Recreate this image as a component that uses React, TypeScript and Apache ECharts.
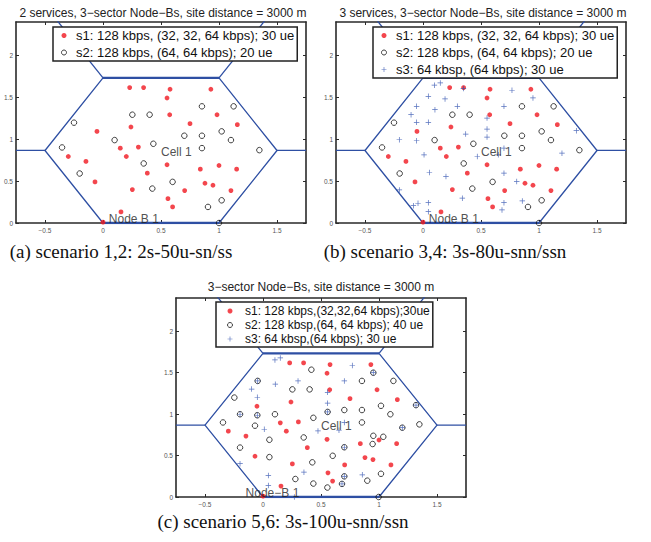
import React, { useEffect, useRef } from 'react';
import * as echarts from 'echarts';

// ---------- axis ticks ----------
const xTicks = [-0.5, 0, 0.5, 1, 1.5];
const yTicks = [0, 0.5, 1, 1.5, 2];
const xRange = [-0.75, 1.75];
const yRange = [0, 2.4];

// ---------- texts ----------
const panelTitles = [
  '2 services, 3\u2212sector Node\u2212Bs, site distance = 3000 m',
  '3 services, 3\u2212sector Node\u2212Bs, site distance = 3000 m',
  '3\u2212sector Node\u2212Bs, site distance = 3000 m',
];
const captions = [
  '(a) scenario 1,2: 2s-50u-sn/ss',
  '(b) scenario 3,4: 3s-80u-snn/ssn',
  '(c) scenario 5,6: 3s-100u-snn/ssn',
];
const namesAB = [
  's1: 128 kbps, (32, 32, 64 kbps); 30 ue',
  's2: 128 kbps, (64, 64 kbps); 20 ue',
  's3: 64 kbsp, (64 kbps); 30 ue',
];
const namesC = [
  's1: 128 kbps,(32,32,64 kbps);30ue',
  's2: 128 kbsp,(64, 64 kbps); 40 ue',
  's3: 64 kbsp,(64 kbps); 30 ue',
];
const cellLabels = ['Cell 1', 'Cell 1', 'Cell 1'];
const nodeLabels = ['Node B 1', 'Node B 1', 'Node\u2212B 1'];
const cellLabelPos = [[0.5, 0.85], [0.5, 0.85], [0.5, 0.86]];
const nodeLabelPos = [[0.05, 0.05], [0.05, 0.05], [-0.15, 0.05]];

// ---------- cell geometry (hexagon + neighbouring borders) ----------
const hexLeft = [[0, 0], [-0.5, 0.866], [0, 1.732]];
const hexRight = [[1, 1.732], [1.5, 0.866], [1, 0]];
const hexTop = [[0, 1.732], [1, 1.732]];
const hexBottom = [[0, 0], [1, 0]];
const spokeLeft = [[-0.75, 0.866], [-0.5, 0.866]];
const spokeRight = [[1.5, 0.866], [1.75, 0.866]];
const spokeUpLeft = [[0, 1.732], [-0.5, 2.598]];
const spokeUpRight = [[1, 1.732], [1.5, 2.598]];

// ---------- user positions ----------
const s1Red = [
  [0.23, 1.617], [0.35, 1.617], [0.578, 1.597], [0.93, 1.597], [0.552, 1.493],
  [0.575, 1.293], [0.983, 1.293], [0.75, 1.186], [1.158, 1.174], [0.241, 1.146],
  [-0.052, 1.094], [0.149, 0.894], [0.305, 0.906], [0.201, 0.794], [-0.299, 0.794],
  [-0.147, 0.735], [0.552, 0.695], [1.0, 0.687], [0.839, 0.643], [1.152, 0.643],
  [0.382, 0.595], [-0.069, 0.491], [0.879, 0.475], [0.948, 0.451], [0.253, 0.399],
  [0.704, 0.387], [1.103, 0.387], [0.56, 0.291], [0.6, 0.192], [0.155, 0.132],
  [0, 0.01],
];
const s2BlackAB = [
  [-0.25, 1.198], [0.253, 1.293], [0.402, 1.293], [0.853, 1.393], [1.126, 1.393],
  [-0.353, 0.902], [0.1, 0.99], [0.434, 0.946], [0.701, 1.042], [0.853, 1.042],
  [1.023, 1.094], [1.103, 0.99], [0.853, 0.894], [1.348, 0.87], [-0.201, 0.591],
  [0.351, 0.711], [0.6, 0.491], [0.425, 0.411], [1.023, 0.271], [0.905, 0.192],
  [1.0, 0],
];
const s3BlueB = [
  [0.098, 1.645], [0.149, 1.673], [0.348, 1.605], [0.046, 1.513], [0.19, 1.481],
  [-0.055, 1.393], [0.296, 1.393], [0.103, 1.353], [-0.103, 1.293], [-0.055, 1.202],
  [0.046, 1.202], [0.552, 1.253], [0.552, 1.122], [0.552, 1.026], [0.368, 1.062],
  [-0.204, 0.994], [-0.055, 0.982], [0.009, 0.814], [0.468, 0.794], [0.055, 0.603],
  [0.198, 0.555], [-0.204, 0.395], [0.339, 0.296], [-0.083, 0.207], [-0.043, 0.236],
  [0.046, 0.243], [0.046, 0.135], [0.767, 1.585], [0.948, 1.493], [0.698, 1.393],
  [1.322, 1.102], [0.698, 0.894], [0.649, 0.814], [1.198, 0.834], [0.698, 0.595],
  [0.808, 0.495], [0.698, 0.243], [0.856, 0.263], [0.681, 0.156],
];
const s2BlackC = [
  [-0.247, 1.199], [-0.046, 1.4], [0.253, 1.298], [0.402, 1.298], [0.417, 1.535],
  [0.951, 1.499], [0.853, 1.4], [1.124, 1.4], [-0.198, 0.998], [-0.049, 0.986],
  [0.103, 0.998], [-0.345, 0.899], [-0.069, 0.86], [0.434, 0.955], [0.557, 1.026],
  [0.701, 1.049], [0.853, 1.049], [1.017, 1.1], [1.098, 0.998], [1.319, 1.108],
  [0.853, 0.899], [1.348, 0.876], [1.201, 0.836], [0.951, 0.738], [1.037, 0.726],
  [0.945, 0.639], [0.055, 0.69], [0.351, 0.718], [0.701, 0.6], [-0.198, 0.596],
  [0.055, 0.481], [0.601, 0.497], [0.425, 0.418], [1.017, 0.28], [0.701, 0.249],
  [0.279, 0.217], [0.434, 0.162], [0.555, 0.114], [0.681, 0.158], [0.899, 0.197],
  [0.997, 0],
];
const s3BlueC = [
  [0.103, 1.653], [0.149, 1.677], [0.77, 1.586], [0.302, 1.4], [0.701, 1.4],
  [0.106, 1.361], [-0.098, 1.302], [-0.049, 1.203], [0.557, 1.262], [0.557, 1.131],
  [0.011, 0.817], [0.474, 0.797], [0.655, 0.805], [0.701, 0.899], [-0.198, 0.402],
  [0.353, 0.3], [0.046, 0.26], [0.046, 0.138], [0.856, 0.268], [0.27, 0],
  [-0.046, 1.4], [0.951, 1.499], [-0.198, 0.998], [-0.049, 0.986], [0.557, 1.026],
  [1.319, 1.108], [1.201, 0.836], [0.701, 0.6], [0.701, 0.249], [0.681, 0.158],
];

const RED = '#f01820';
const BLACK = '#111111';
const BLUE = '#2d4fae';
const LINE_BLUE = '#2e4fa3';
const PLUS = 'path://M-1,-0.13H1V0.13H-1Z M-0.13,-1H0.13V1H-0.13Z';
const SANS = '"Liberation Sans", Arial, Helvetica, sans-serif';
const SERIF = '"Liberation Serif", "Times New Roman", serif';

const grids = [
  { left: 16, top: 22, width: 290, height: 201 },
  { left: 336, top: 22, width: 290, height: 201 },
  { left: 176, top: 298, width: 290, height: 199 },
];
const titleX = [163, 483, 321];
const titleY = [7, 7, 281];
const captionX = [121, 445, 283];
const captionY = [242, 242, 512];

function buildOption() {
  const xAxis: any[] = [];
  const yAxis: any[] = [];
  grids.forEach((_, g) => {
    ['bottom', 'top'].forEach((pos) => {
      xAxis.push({
        type: 'value', gridIndex: g, position: pos, min: xRange[0], max: xRange[1],
        axisLine: { show: true, onZero: false, lineStyle: { color: '#2a2a2a', width: 1.6 } },
        axisTick: { show: true, inside: true, length: 3, customValues: xTicks, lineStyle: { color: '#2a2a2a', width: 1 } },
        axisLabel: {
          show: pos === 'bottom', customValues: xTicks, fontSize: 6.5, color: '#555', margin: 4,
          formatter: (v: number) => String(v).replace('-', '\u2212'),
        },
        splitLine: { show: false },
      });
    });
    ['left', 'right'].forEach((pos) => {
      yAxis.push({
        type: 'value', gridIndex: g, position: pos, min: yRange[0], max: yRange[1],
        axisLine: { show: true, onZero: false, lineStyle: { color: '#2a2a2a', width: 1.6 } },
        axisTick: { show: true, inside: true, length: 3, customValues: yTicks, lineStyle: { color: '#2a2a2a', width: 1 } },
        axisLabel: { show: pos === 'left', customValues: yTicks, fontSize: 6.5, color: '#555', margin: 3 },
        splitLine: { show: false },
      });
    });
  });

  const series: any[] = [];
  const lineSeg = (g: number, data: number[][], width: number) => ({
    type: 'line', xAxisIndex: 2 * g, yAxisIndex: 2 * g, data, symbol: 'none', silent: true,
    clip: true, lineStyle: { color: LINE_BLUE, width }, z: 2,
  });
  const red = (g: number, name: string) => ({
    type: 'scatter', name, xAxisIndex: 2 * g, yAxisIndex: 2 * g, data: s1Red,
    symbol: 'circle', symbolSize: 4.8, itemStyle: { color: RED }, silent: true, z: 3,
  });
  const black = (g: number, name: string, data: number[][]) => ({
    type: 'scatter', name, xAxisIndex: 2 * g, yAxisIndex: 2 * g, data,
    symbol: 'circle', symbolSize: 5.5,
    itemStyle: { color: 'rgba(255,255,255,0)', borderColor: BLACK, borderWidth: 1 }, silent: true, z: 3,
  });
  const blue = (g: number, name: string, data: number[][]) => ({
    type: 'scatter', name, xAxisIndex: 2 * g, yAxisIndex: 2 * g, data,
    symbol: PLUS, symbolSize: 5.5, itemStyle: { color: BLUE }, silent: true, z: 4,
  });
  const note = (g: number) => ({
    type: 'scatter', xAxisIndex: 2 * g, yAxisIndex: 2 * g, symbolSize: 0, silent: true, z: 5,
    data: [
      { name: cellLabels[g], value: cellLabelPos[g] },
      { name: nodeLabels[g], value: nodeLabelPos[g] },
    ],
    label: { show: true, position: 'right', distance: 0, formatter: '{b}', fontSize: 12, color: '#222', fontFamily: SANS },
  });

  grids.forEach((_, g) => {
    series.push(lineSeg(g, hexLeft, 1.3), lineSeg(g, hexRight, 1.3), lineSeg(g, hexTop, 2.2), lineSeg(g, hexBottom, 2.4));
    series.push(lineSeg(g, spokeLeft, 1.3), lineSeg(g, spokeRight, 1.3), lineSeg(g, spokeUpLeft, 1.3), lineSeg(g, spokeUpRight, 1.3));
  });
  series.push(red(0, namesAB[0]), black(0, namesAB[1], s2BlackAB));
  series.push(red(1, namesAB[0]), black(1, namesAB[1], s2BlackAB), blue(1, namesAB[2], s3BlueB));
  series.push(red(2, namesC[0]), black(2, namesC[1], s2BlackC), blue(2, namesC[2], s3BlueC));
  grids.forEach((_, g) => series.push(note(g)));

  const legendBase = {
    orient: 'vertical', selectedMode: false, backgroundColor: '#fff', borderColor: '#222', borderWidth: 1.5,
    borderRadius: 0, itemHeight: 5, z: 10,
  };
  const circleItem = (name: string) => ({ name, itemStyle: { borderWidth: 1 } });
  const legend = [
    { ...legendBase, left: 53, top: 27, data: [namesAB[0], circleItem(namesAB[1])], itemWidth: 14, itemGap: 4, padding: [2, 3, 2, 8],
      textStyle: { fontSize: 13, color: '#111', fontFamily: SANS } },
    { ...legendBase, left: 373, top: 27, data: [namesAB[0], circleItem(namesAB[1]), namesAB[2]], itemWidth: 14, itemGap: 4, padding: [2, 3, 2, 8],
      textStyle: { fontSize: 13, color: '#111', fontFamily: SANS } },
    { ...legendBase, left: 216, top: 302, data: [namesC[0], circleItem(namesC[1]), namesC[2]], itemWidth: 20, itemGap: 2, padding: [3, 3, 2, 11],
      textStyle: { fontSize: 12, color: '#111', fontFamily: SANS } },
  ];

  const title: any[] = [];
  panelTitles.forEach((t, i) => title.push({
    text: t, left: titleX[i], top: titleY[i], textAlign: 'center', padding: 0,
    textStyle: { fontSize: 12, fontWeight: 'normal', color: '#222', fontFamily: SANS },
  }));
  captions.forEach((t, i) => title.push({
    text: t, left: captionX[i], top: captionY[i], textAlign: 'center', padding: 0,
    textStyle: { fontSize: 19, fontWeight: 'normal', color: '#111', fontFamily: SERIF },
  }));

  return {
    animation: false,
    backgroundColor: '#ffffff',
    textStyle: { fontFamily: SANS },
    title,
    legend,
    grid: grids,
    xAxis,
    yAxis,
    series,
  };
}

export default function App() {
  const ref = useRef<HTMLDivElement>(null);
  useEffect(() => {
    if (!ref.current) return;
    const chart = echarts.init(ref.current, undefined, { renderer: 'svg' });
    chart.setOption(buildOption() as any);
    return () => chart.dispose();
  }, []);
  return (
    <div
      ref={ref}
      style={{ position: 'fixed', left: 0, top: 0, width: 651, height: 542, background: '#fff' }}
    />
  );
}
